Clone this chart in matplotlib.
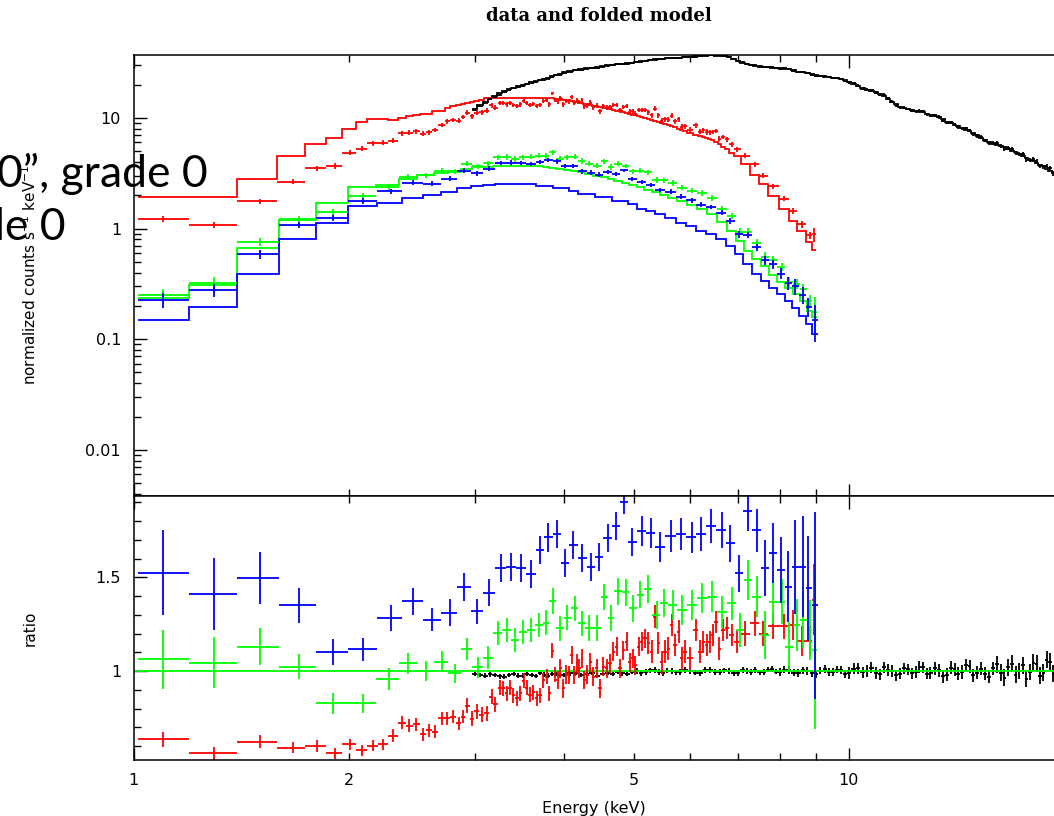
import numpy as np
import matplotlib
matplotlib.use("Agg")
import matplotlib.pyplot as plt
from matplotlib.ticker import FixedLocator, FixedFormatter, NullFormatter, LogLocator, MultipleLocator

# ---- data (energy in keV, model in counts/s/keV, ratio = data/model) ----
black_e = [3.0, 3.05, 3.1, 3.15, 3.2, 3.25, 3.3, 3.35, 3.4, 3.45,
           3.5, 3.55, 3.6, 3.65, 3.7, 3.75, 3.8, 3.85, 3.9, 3.95,
           4.0, 4.075, 4.15, 4.225, 4.3, 4.375, 4.45, 4.525, 4.6, 4.675,
           4.75, 4.825, 4.9, 4.975, 5.05, 5.125, 5.2, 5.275, 5.35, 5.425,
           5.5, 5.575, 5.65, 5.725, 5.8, 5.9, 6.0, 6.1, 6.2, 6.3,
           6.4, 6.5, 6.6, 6.7, 6.8, 6.9, 7.0, 7.1, 7.2, 7.3,
           7.4, 7.5, 7.6, 7.7, 7.8, 7.9, 8.0, 8.125, 8.25, 8.375,
           8.5, 8.625, 8.75, 8.875, 9.0, 9.125, 9.25, 9.375, 9.5, 9.625,
           9.75, 9.875, 10.0, 10.15, 10.3, 10.45, 10.6, 10.75, 10.9, 11.05,
           11.2, 11.35, 11.5, 11.65, 11.8, 11.95, 12.1, 12.25, 12.4, 12.55,
           12.7, 12.85, 13.0, 13.175, 13.35, 13.525, 13.7, 13.875, 14.05, 14.225,
           14.4, 14.575, 14.75, 14.925, 15.1, 15.3, 15.5, 15.7, 15.9, 16.1,
           16.3, 16.5, 16.7, 16.9, 17.1, 17.3, 17.5, 17.7, 17.9, 18.1,
           18.3, 18.5, 18.7, 18.9, 19.1, 19.3, 19.5]
black_model = [12.0, 13.0, 14.0, 15.0, 15.9, 16.7, 17.5, 18.2, 18.8, 19.3,
               19.8, 20.4, 20.9, 21.5, 22.0, 22.5, 23.1, 23.8, 24.5, 25.1,
               25.7, 26.4, 27.1, 27.6, 28.0, 28.5, 29.0, 29.5, 30.0, 30.3,
               30.5, 30.8, 31.1, 31.6, 32.1, 32.5, 32.8, 33.2, 33.5, 33.9,
               34.2, 34.4, 34.5, 34.8, 35.0, 35.3, 35.6, 35.9, 36.2, 36.4,
               36.6, 36.7, 36.6, 36.1, 35.3, 34.1, 32.8, 31.6, 30.6, 30.1,
               29.6, 29.3, 29.0, 28.7, 28.4, 28.2, 28.0, 27.8, 27.5, 26.8,
               26.2, 25.7, 25.3, 24.8, 24.4, 24.0, 23.6, 23.3, 23.1, 22.8,
               22.4, 21.8, 21.2, 20.2, 19.2, 18.5, 17.9, 17.4, 17.0, 16.5,
               15.9, 14.9, 14.0, 13.3, 12.6, 12.2, 11.9, 11.7, 11.5, 11.35,
               11.2, 10.9, 10.6, 10.35, 10.1, 9.7, 9.25, 8.95, 8.66, 8.36,
               8.07, 7.8, 7.53, 7.23, 6.93, 6.63, 6.33, 6.08, 5.83, 5.72,
               5.6, 5.4, 5.2, 5.05, 4.9, 4.72, 4.54, 4.36, 4.18, 4.04,
               3.9, 3.77, 3.64, 3.48, 3.33, 3.2, 3.1]
black_ratio = [0.985, 0.978, 0.975, 0.982, 0.980, 0.972, 0.970, 0.979, 0.985, 0.976,
               0.975, 0.984, 0.980, 0.973, 0.990, 0.981, 0.975, 0.986, 0.985, 0.978,
               0.980, 0.988, 0.990, 0.979, 0.985, 0.992, 0.975, 0.986, 0.990, 0.983,
               0.995, 0.988, 0.985, 0.996, 1.000, 0.990, 0.995, 1.003, 1.005, 0.994,
               0.990, 1.002, 1.000, 0.993, 0.995, 1.004, 1.000, 0.992, 0.990, 1.006,
               1.005, 0.996, 0.995, 1.003, 1.000, 0.991, 0.990, 1.004, 1.000, 0.995,
               1.005, 0.993, 0.995, 1.008, 1.010, 0.997, 0.995, 1.007, 1.005, 0.992,
               0.990, 1.004, 1.000, 0.988, 0.985, 1.002, 1.010, 0.996, 0.995, 1.008,
               1.005, 0.985, 0.990, 1.012, 1.015, 0.994, 1.000, 1.018, 0.990, 0.982,
               1.020, 1.006, 1.000, 0.978, 0.985, 1.015, 1.010, 0.988, 0.995, 1.022,
               1.020, 0.985, 0.990, 1.015, 1.005, 0.972, 0.980, 1.018, 1.010, 0.985,
               0.995, 1.030, 1.025, 0.978, 0.990, 1.012, 0.985, 0.970, 1.015, 1.035,
               0.990, 0.965, 1.020, 1.040, 0.980, 1.000, 1.030, 0.960, 0.995, 1.045,
               1.040, 0.975, 0.990, 1.060, 1.050, 0.985, 1.010]
black_err = [0.012, 0.012, 0.012, 0.012, 0.012, 0.012, 0.012, 0.012, 0.012, 0.012,
             0.012, 0.012, 0.012, 0.012, 0.012, 0.012, 0.012, 0.012, 0.012, 0.012,
             0.012, 0.012, 0.012, 0.012, 0.012, 0.012, 0.012, 0.012, 0.012, 0.012,
             0.012, 0.012, 0.012, 0.012, 0.015, 0.015, 0.015, 0.015, 0.015, 0.015,
             0.015, 0.015, 0.015, 0.015, 0.015, 0.015, 0.015, 0.015, 0.015, 0.015,
             0.015, 0.015, 0.015, 0.015, 0.015, 0.015, 0.015, 0.015, 0.015, 0.015,
             0.015, 0.015, 0.015, 0.015, 0.015, 0.015, 0.02, 0.02, 0.02, 0.02,
             0.02, 0.02, 0.02, 0.02, 0.02, 0.02, 0.02, 0.02, 0.02, 0.02,
             0.02, 0.02, 0.03, 0.03, 0.03, 0.03, 0.03, 0.03, 0.03, 0.03,
             0.03, 0.03, 0.03, 0.03, 0.03, 0.03, 0.03, 0.03, 0.03, 0.03,
             0.03, 0.03, 0.03, 0.035, 0.035, 0.035, 0.035, 0.035, 0.035, 0.035,
             0.035, 0.035, 0.035, 0.035, 0.035, 0.035, 0.035, 0.035, 0.035, 0.045,
             0.045, 0.045, 0.045, 0.045, 0.045, 0.045, 0.045, 0.045, 0.045, 0.045,
             0.045, 0.045, 0.045, 0.045, 0.045, 0.045, 0.045]

red_e = [1.100, 1.297, 1.502, 1.673, 1.803, 1.912, 2.007, 2.084, 2.163, 2.234,
         2.307, 2.371, 2.429, 2.482, 2.541, 2.591, 2.639, 2.696, 2.746, 2.793,
         2.853, 2.890, 2.928, 2.970, 3.018, 3.066, 3.116,
         3.167, 3.201, 3.253, 3.288, 3.323, 3.359, 3.394, 3.438, 3.469, 3.514,
         3.544, 3.583, 3.621, 3.661, 3.700, 3.739, 3.781, 3.812, 3.846, 3.883,
         3.916, 3.945, 3.987, 4.022, 4.057, 4.097, 4.132, 4.164, 4.199, 4.231,
         4.266, 4.307, 4.345, 4.391, 4.442, 4.487, 4.535, 4.585, 4.634, 4.684,
         4.734, 4.786, 4.837, 4.890, 4.942, 4.985, 5.027, 5.083, 5.132, 5.187,
         5.243, 5.300, 5.357, 5.414, 5.472, 5.531, 5.590, 5.651, 5.711, 5.785,
         5.836, 5.898, 5.994, 6.105, 6.189, 6.256, 6.329, 6.394, 6.450, 6.519,
         6.588, 6.674, 6.760, 6.857, 6.969, 7.156, 7.391, 7.591, 7.842, 8.117,
         8.363, 8.588, 8.820, 8.943]
red_model = [1.91, 1.91, 2.82, 4.48, 5.83, 6.56, 7.94, 9.14, 9.77, 9.77,
             9.5, 10.0, 10.4, 10.6, 10.9, 10.9, 11.5, 11.5, 12.4, 12.7,
             13.1, 13.4, 13.7, 13.9, 14.2, 14.6, 15.0,
             15.0, 15.0, 15.0, 15.0, 15.0, 15.0, 15.0, 15.0, 15.0, 15.0,
             15.0, 15.0, 15.0, 15.0, 15.0, 15.0, 15.0, 15.0, 15.0, 14.9,
             14.9, 14.8, 14.6, 14.5, 14.4, 14.2, 14.0, 13.9, 13.7, 13.6,
             13.4, 13.3, 13.1, 12.9, 12.7, 12.6, 12.4, 12.2, 12.0, 11.8,
             11.6, 11.5, 11.3, 11.1, 10.9, 10.7, 10.6, 10.4, 10.2, 10.0,
             9.8, 9.6, 9.4, 9.2, 9.0, 8.8, 8.6, 8.4, 8.2, 8.0,
             7.8, 7.6, 7.3, 7.0, 6.8, 6.7, 6.55, 6.4, 6.25, 6.05,
             5.8, 5.5, 5.2, 4.85, 4.5, 3.8, 3.05, 2.5, 1.95, 1.5,
             1.16, 0.94, 0.75, 0.64]
red_ratio = [0.637, 0.561, 0.623, 0.591, 0.600, 0.561, 0.609, 0.577, 0.601, 0.609,
             0.655, 0.724, 0.707, 0.715, 0.662, 0.683, 0.676, 0.748, 0.748, 0.757,
             0.720, 0.757, 0.815, 0.745, 0.785, 0.766, 0.774,
             0.863, 0.822, 0.911, 0.909, 0.881, 0.911, 0.872, 0.854, 0.881, 0.947,
             0.911, 0.874, 0.887, 0.854, 0.872, 0.952, 0.970, 0.881, 1.107, 0.979,
             0.952, 1.014, 0.908, 0.981, 0.979, 1.085, 0.979, 1.041, 1.014, 1.068,
             0.952, 0.981, 1.046, 0.970, 1.014, 0.908, 1.023, 1.014, 1.041, 1.103,
             1.130, 1.014, 1.110, 1.156, 1.046, 1.068, 1.030, 1.130, 1.156, 1.174,
             1.150, 1.103, 1.290, 1.150, 1.046, 1.103, 1.120, 1.245, 1.138, 1.210,
             1.068, 1.103, 1.068, 1.220, 1.103, 1.156, 1.138, 1.156, 1.192, 1.263,
             1.120, 1.220, 1.230, 1.192, 1.156, 1.200, 1.254, 1.200, 1.238, 1.238,
             1.245, 1.158, 1.158, 1.380]
red_err = [0.04, 0.035, 0.035, 0.03, 0.03, 0.03, 0.03, 0.03, 0.03, 0.03,
           0.035, 0.035, 0.035, 0.035, 0.035, 0.035, 0.035, 0.035, 0.035, 0.035,
           0.035, 0.035, 0.04, 0.04, 0.04, 0.04, 0.04,
           0.04, 0.04, 0.04, 0.04, 0.04, 0.04, 0.04, 0.04, 0.04, 0.04,
           0.04, 0.04, 0.04, 0.04, 0.04, 0.04, 0.04, 0.04, 0.04, 0.04,
           0.05, 0.05, 0.05, 0.05, 0.05, 0.05, 0.05, 0.05, 0.05, 0.05,
           0.05, 0.05, 0.05, 0.05, 0.05, 0.05, 0.05, 0.05, 0.05, 0.05,
           0.05, 0.05, 0.05, 0.05, 0.05, 0.05, 0.05, 0.05, 0.05, 0.05,
           0.06, 0.06, 0.06, 0.06, 0.06, 0.06, 0.06, 0.06, 0.06, 0.06,
           0.06, 0.06, 0.06, 0.06, 0.06, 0.06, 0.06, 0.06, 0.06, 0.06,
           0.06, 0.06, 0.06, 0.06, 0.06, 0.065, 0.065, 0.065, 0.065, 0.065,
           0.08, 0.08, 0.08, 0.19]

green_e = [1.100, 1.297, 1.502, 1.702, 1.898, 2.095, 2.278, 2.422, 2.561, 2.696,
           2.814, 2.922, 3.033, 3.130, 3.235, 3.323, 3.413, 3.499, 3.594, 3.691,
           3.773, 3.853, 3.945, 4.039, 4.140, 4.231, 4.335, 4.442, 4.550, 4.650,
           4.751, 4.875, 4.995, 5.105, 5.233, 5.385, 5.519, 5.671, 5.836, 6.027,
           6.223, 6.430, 6.640, 6.857, 7.041, 7.233, 7.430, 7.630, 7.842, 8.050,
           8.254, 8.452, 8.633, 8.820, 8.964]
green_model = [0.234, 0.309, 0.67, 1.20, 1.70, 2.36, 2.49, 2.82, 3.02, 3.17,
               3.30, 3.45, 3.58, 3.62, 3.64, 3.64, 3.64, 3.65, 3.66, 3.66,
               3.60, 3.55, 3.47, 3.41, 3.33, 3.26, 3.14, 3.01, 2.90, 2.80,
               2.70, 2.59, 2.47, 2.36, 2.25, 2.12, 2.01, 1.90, 1.77, 1.63,
               1.50, 1.35, 1.15, 0.95, 0.77, 0.63, 0.53, 0.46, 0.38, 0.33,
               0.29, 0.255, 0.221, 0.18, 0.157]
green_ratio = [1.062, 1.044, 1.130, 1.023, 0.828, 0.828, 0.956, 1.041, 1.000, 1.050,
               0.988, 1.117, 1.020, 1.071, 1.204, 1.219, 1.165, 1.210, 1.219, 1.245,
               1.258, 1.374, 1.228, 1.285, 1.335, 1.254, 1.231, 1.231, 1.397, 1.285,
               1.427, 1.420, 1.335, 1.406, 1.436, 1.299, 1.361, 1.352, 1.326, 1.352,
               1.391, 1.397, 1.317, 1.361, 1.219, 1.486, 1.397, 1.192, 1.370, 1.370,
               1.130, 1.245, 1.272, 1.219, 1.110]
green_err = [0.157, 0.135, 0.100, 0.067, 0.055, 0.050, 0.058, 0.056, 0.053, 0.056,
             0.050, 0.058, 0.055, 0.060, 0.065, 0.065, 0.065, 0.065, 0.065, 0.065,
             0.068, 0.068, 0.068, 0.068, 0.068, 0.068, 0.070, 0.070, 0.070, 0.070,
             0.072, 0.072, 0.072, 0.072, 0.075, 0.075, 0.075, 0.078, 0.078, 0.080,
             0.080, 0.082, 0.085, 0.088, 0.090, 0.107, 0.110, 0.130, 0.120, 0.120,
             0.130, 0.140, 0.150, 0.160, 0.420]

blue_e = [1.100, 1.297, 1.502, 1.702, 1.898, 2.095, 2.289, 2.460, 2.617, 2.769,
          2.900, 3.018, 3.144, 3.261, 3.373, 3.483, 3.594, 3.700, 3.800, 3.912,
          4.014, 4.120, 4.240, 4.359, 4.477, 4.600, 4.724, 4.847, 4.979, 5.142,
          5.283, 5.443, 5.634, 5.824, 6.027, 6.211, 6.409, 6.640, 6.820, 7.025,
          7.217, 7.430, 7.630, 7.823, 8.035, 8.227, 8.405, 8.633, 8.773, 8.964]
blue_model = [0.148, 0.197, 0.391, 0.796, 1.13, 1.59, 1.70, 1.89, 2.00, 2.15,
              2.30, 2.40, 2.45, 2.53, 2.53, 2.53, 2.53, 2.44, 2.44, 2.33,
              2.33, 2.20, 2.05, 2.05, 1.91, 1.91, 1.76, 1.76, 1.65, 1.51,
              1.43, 1.34, 1.25, 1.125, 1.05, 0.946, 0.883, 0.796, 0.693, 0.583,
              0.474, 0.385, 0.335, 0.292, 0.254, 0.221, 0.193, 0.162, 0.136, 0.111]
blue_ratio = [1.525, 1.411, 1.495, 1.350, 1.100, 1.116, 1.283, 1.372, 1.274, 1.311,
              1.450, 1.320, 1.418, 1.548, 1.555, 1.548, 1.518, 1.646, 1.713, 1.731,
              1.578, 1.672, 1.601, 1.557, 1.610, 1.708, 1.775, 1.900, 1.690, 1.747,
              1.738, 1.660, 1.722, 1.730, 1.713, 1.730, 1.775, 1.752, 1.681, 1.521,
              1.855, 1.752, 1.548, 1.628, 1.539, 1.450, 1.557, 1.557, 1.441, 1.350]
blue_err = [0.227, 0.190, 0.138, 0.092, 0.070, 0.060, 0.067, 0.071, 0.062, 0.072,
            0.074, 0.067, 0.071, 0.075, 0.075, 0.075, 0.075, 0.075, 0.075, 0.075,
            0.075, 0.075, 0.075, 0.075, 0.075, 0.075, 0.075, 0.062, 0.075, 0.080,
            0.080, 0.080, 0.085, 0.085, 0.085, 0.090, 0.090, 0.095, 0.100, 0.100,
            0.107, 0.115, 0.150, 0.160, 0.175, 0.190, 0.250, 0.270, 0.280, 0.500]


def bin_edges(e):
    # channel boundaries half way (in log E) between neighbouring bin centres
    le = np.log10(e)
    mid = (le[1:] + le[:-1]) / 2
    le = np.concatenate([[2 * le[0] - mid[0]], mid, [2 * le[-1] - mid[-1]]])
    return 10 ** le


plt.rcParams['font.family'] = 'DejaVu Sans'

fig = plt.figure(figsize=(10.54, 8.16), dpi=100)
ax1 = fig.add_axes([0.1267, 0.3922, 0.8733, 0.5404])
ax2 = fig.add_axes([0.1267, 0.0686, 0.8733, 0.3235])

lw = 1.3
sets = [(black_e, black_model, black_ratio, black_err, 'black'),
        (red_e, red_model, red_ratio, red_err, '#ff0000'),
        (green_e, green_model, green_ratio, green_err, '#00ff00'),
        (blue_e, blue_model, blue_ratio, blue_err, '#0000ff')]

for i, (e, m, r, s, c) in enumerate(sets):
    e, m, r, s = np.array(e), np.array(m), np.array(r), np.array(s)
    ed = bin_edges(e)
    xerr = [e - ed[:-1], ed[1:] - e]
    ax1.stairs(m, ed, color=c, lw=lw, baseline=None)
    ax1.errorbar(e, r * m, xerr=xerr, yerr=s * m, fmt='none', ecolor=c, elinewidth=lw)
    ax2.errorbar(e, r, xerr=xerr, yerr=s, fmt='none', ecolor=c, elinewidth=lw)
    if i == 0:
        ax2.axhline(1.0, color='#00ff00', lw=lw)

for ax in (ax1, ax2):
    ax.set_xscale('log')
    ax.set_xlim(1, 19.35)
    ax.xaxis.set_major_locator(FixedLocator([1, 10]))
    ax.xaxis.set_minor_locator(FixedLocator([2, 3, 4, 5, 6, 7, 8, 9]))
    ax.tick_params(which='both', direction='in', top=True, right=False,
                   width=1, labelsize=11.5, pad=9)
    ax.tick_params(which='major', length=9)
    ax.tick_params(which='minor', length=5)
    ax.spines['right'].set_visible(False)
    for sp in ('left', 'top', 'bottom'):
        ax.spines[sp].set_linewidth(1.1)

ax1.set_yscale('log')
ax1.set_ylim(0.00383, 36.97)
ax1.yaxis.set_major_locator(FixedLocator([0.01, 0.1, 1, 10]))
ax1.yaxis.set_major_formatter(FixedFormatter(['0.01', '0.1', '1', '10']))
ax1.yaxis.set_minor_locator(LogLocator(base=10, subs=(2, 3, 4, 5, 6, 7, 8, 9)))
ax1.yaxis.set_minor_formatter(NullFormatter())
ax1.xaxis.set_major_formatter(NullFormatter())
ax1.xaxis.set_minor_formatter(NullFormatter())

ax2.set_ylim(0.525, 1.934)
ax2.yaxis.set_major_locator(FixedLocator([1.0, 1.5]))
ax2.yaxis.set_major_formatter(FixedFormatter(['1', '1.5']))
ax2.yaxis.set_minor_locator(MultipleLocator(0.1))
ax2.xaxis.set_major_formatter(FixedFormatter(['1', '10']))
ax2.xaxis.set_minor_formatter(FixedFormatter(['2', '', '', '5', '', '', '', '']))

fig.text(0.568, 0.980, 'data and folded model', ha='center', va='center',
         family='DejaVu Serif', weight='bold', size=13)
fig.text(30 / 1054, 1 - 275 / 816, 'normalized counts s$^{-1}$ keV$^{-1}$',
         rotation=90, ha='center', va='center', size=11)
fig.text(30 / 1054, 1 - 628 / 816, 'ratio', rotation=90, ha='center', va='center', size=11)
fig.text(594 / 1054, 1 - 808 / 816, 'Energy (keV)', ha='center', va='center', size=11.5)

# slide text lying over the left edge of the plot
fig.text(-3 / 1054, 1 - 187 / 816, '0\u201d, grade 0', family=['Lato', 'DejaVu Sans'],
         size=32, ha='left', va='baseline')
fig.text(-20 / 1054, 1 - 240 / 816, 'de 0', family=['Lato', 'DejaVu Sans'],
         size=32, ha='left', va='baseline')

fig.savefig('out.png', dpi=100)
